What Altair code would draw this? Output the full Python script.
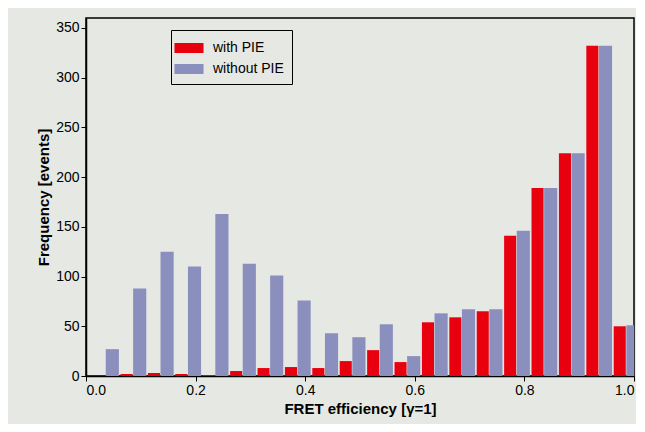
import pandas as pd
import altair as alt

bin_centers = [0.035 + 0.05 * i for i in range(20)]
with_pie = [0, 2, 3, 2, 1, 5, 8, 9, 8, 15, 26, 14, 54, 59, 65, 141, 189, 224, 332, 50]
without_pie = [27, 88, 125, 110, 163, 113, 101, 76, 43, 39, 52, 20, 63, 67, 67, 146, 189, 224, 332, 51]
series = ["with PIE", "without PIE"]
colors = ["#e8000f", "#8b8fbd"]

rows = []
for c, a, b in zip(bin_centers, with_pie, without_pie):
    rows.append({"series": "with PIE", "x0": c - 0.022, "x1": c, "n": a})
    rows.append({"series": "without PIE", "x0": c + 0.001, "x1": c + 0.025, "n": b})
df = pd.DataFrame(rows)

font = "Liberation Sans"
chart = alt.Chart(df).mark_bar(clip=True).encode(
    x=alt.X("x0:Q", scale=alt.Scale(domain=[0, 1], nice=False),
            axis=alt.Axis(values=[0, 0.2, 0.4, 0.6, 0.8, 1.0], format=".1f",
                          title="FRET efficiency [γ=1]", grid=False)),
    x2="x1:Q",
    y=alt.Y("n:Q", scale=alt.Scale(domain=[0, 360], nice=False),
            axis=alt.Axis(values=list(range(0, 351, 50)), title="Frequency [events]", grid=False)),
    y2=alt.datum(0),
    color=alt.Color("series:N", scale=alt.Scale(domain=series, range=colors),
                    legend=alt.Legend(title=None, orient="none", legendX=85, legendY=12,
                                      symbolType="M-1.6,-0.55H1.6V0.55H-1.6Z", symbolSize=330,
                                      symbolOpacity=1, strokeColor="black", padding=8,
                                      labelFontSize=14, labelFont=font, rowPadding=4,
                                      labelOffset=14)),
).properties(
    width=548, height=358,
    autosize=alt.AutoSizeParams(type="none"),
    padding={"left": 78, "top": 10, "right": 2, "bottom": 48},
    background="#e6e9e3",
).configure_view(stroke="black", strokeWidth=1.5, fill="#e6e9e3").configure_axis(
    labelFont=font, titleFont=font, labelFontSize=14, titleFontSize=15, titleFontWeight="bold",
    labelColor="black", titleColor="black", domainColor="black", tickColor="black",
    tickSize=5, domainWidth=1.5, labelOverlap=False,
)

chart.save("out.html", embed_options={"renderer": "svg", "actions": False})
